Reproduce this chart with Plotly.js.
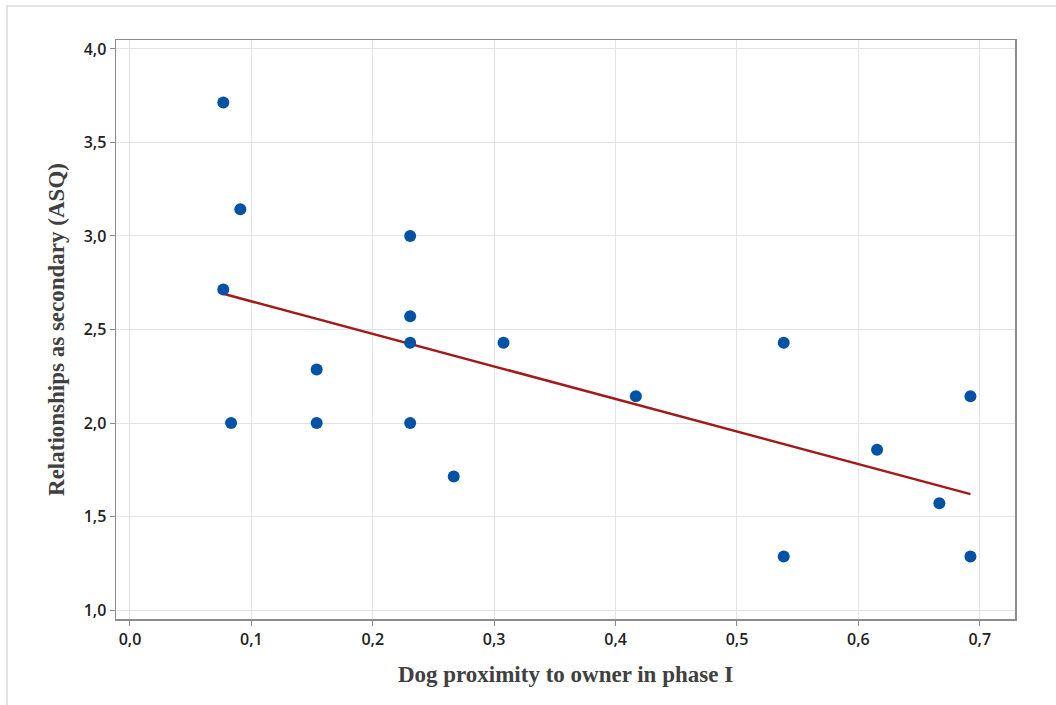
<!DOCTYPE html>
<html>
<head>
<meta charset="utf-8">
<script src="https://cdn.plot.ly/plotly-3.0.1.min.js"></script>
<style>
  html, body { margin: 0; padding: 0; background: #fff; }
  #frame { position: absolute; left: 6px; top: 5px; width: 1050px; height: 700px;
           border-left: 2px solid #e3e3e3; border-top: 2px solid #e3e3e3; box-sizing: border-box; }
  #chart { position: absolute; left: 0; top: 0; width: 1056px; height: 705px; }
</style>
</head>
<body>
<div id="frame"></div>
<div id="chart"></div>
<script>
// Dog proximity to owner in phase I
const proximity = [0.0769, 0.0909, 0.0769, 0.0833, 0.1538, 0.1538, 0.2308, 0.2308, 0.2308, 0.2308,
                   0.2667, 0.3077, 0.4167, 0.5385, 0.5385, 0.6154, 0.6667, 0.6923, 0.6923];
// Relationships as secondary (ASQ)
const asq = [3.714, 3.143, 2.714, 2.000, 2.286, 2.000, 3.000, 2.571, 2.429, 2.000,
             1.714, 2.429, 2.143, 2.429, 1.286, 1.857, 1.571, 2.143, 1.286];
const xTicks = [0, 0.1, 0.2, 0.3, 0.4, 0.5, 0.6, 0.7];
const yTicks = [1.0, 1.5, 2.0, 2.5, 3.0, 3.5, 4.0];

// least-squares fit line
const n = proximity.length;
const mx = proximity.reduce((a, b) => a + b, 0) / n;
const my = asq.reduce((a, b) => a + b, 0) / n;
let sxy = 0, sxx = 0;
for (let i = 0; i < n; i++) { sxy += (proximity[i] - mx) * (asq[i] - my); sxx += (proximity[i] - mx) ** 2; }
const slope = sxy / sxx, intercept = my - slope * mx;
const xmin = Math.min(...proximity), xmax = Math.max(...proximity);
const fitX = [xmin, xmax];
const fitY = fitX.map(v => intercept + slope * v);

const tickFont = { family: 'Open Sans, Noto Sans, sans-serif', size: 16, color: '#222222', weight: 600 };
const titleFont = { family: 'Liberation Serif, Times New Roman, serif', size: 23, color: '#404040', weight: 'bold' };

const data = [
  { x: fitX, y: fitY, type: 'scatter', mode: 'lines', line: { color: '#a21a1a', width: 2.5 }, hoverinfo: 'skip' },
  { x: proximity, y: asq, type: 'scatter', mode: 'markers', marker: { color: '#0052a5', size: 12 } }
];

const axisCommon = {
  showline: true, linecolor: '#8c8c8c', linewidth: 1.5, mirror: true,
  ticks: 'outside', ticklen: 5, tickwidth: 1, tickcolor: '#8c8c8c',
  showgrid: true, gridcolor: '#e4e4e4', gridwidth: 1, zeroline: false,
  tickfont: tickFont
};

const layout = {
  width: 1056, height: 705,
  paper_bgcolor: 'rgba(0,0,0,0)', plot_bgcolor: '#fff',
  showlegend: false,
  separators: ', ',
  margin: { l: 116, r: 41, t: 40, b: 86 },
  xaxis: Object.assign({}, axisCommon, {
    range: [-0.0115, 0.729], tickvals: xTicks, tickformat: '.1f',
    title: { text: 'Dog proximity to owner in phase I', font: titleFont, standoff: 17 }
  }),
  yaxis: Object.assign({}, axisCommon, {
    range: [0.952, 4.048], tickvals: yTicks, tickformat: '.1f',
    title: { text: 'Relationships as secondary (ASQ)', font: titleFont, standoff: 12 }
  })
};

Plotly.newPlot('chart', data, layout, { staticPlot: true, displayModeBar: false });
</script>
</body>
</html>
